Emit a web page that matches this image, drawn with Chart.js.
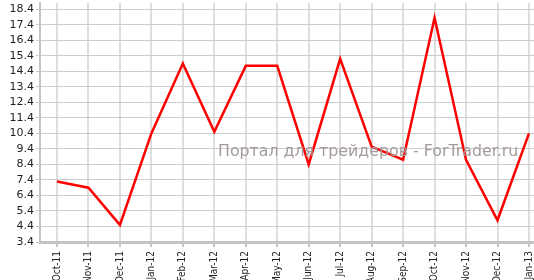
<!DOCTYPE html>
<html lang="ru">
<head>
  <meta charset="UTF-8">
  <title>Chart</title>
  <script src="https://cdn.jsdelivr.net/npm/chart.js"></script>
  <style>
    body {
      margin: 0;
      padding: 0;
      background: #fff;
    }

    #wrap {
      position: relative;
      width: 534px;
      height: 280px;
    }

    .watermark {
      position: absolute;
      left: 218px;
      top: 141px;
      font-family: 'DejaVu Sans', sans-serif;
      font-size: 15.8px;
      color: #a59b9b;
      white-space: nowrap;
      pointer-events: none;
    }
  </style>
</head>
<body>
  <div id="wrap">
    <canvas id="chart" width="534" height="280"></canvas>
    <div class="watermark">Портал для трейдеров - ForTrader.ru</div>
  </div>

  <script>
    const months = ['Oct-11', 'Nov-11', 'Dec-11', 'Jan-12', 'Feb-12', 'Mar-12', 'Apr-12', 'May-12',
                    'Jun-12', 'Jul-12', 'Aug-12', 'Sep-12', 'Oct-12', 'Nov-12', 'Dec-12', 'Jan-13'];
    const values = [7.3, 6.9, 4.5, 10.4, 14.9, 10.5, 14.75, 14.75,
                    8.4, 15.2, 9.55, 8.7, 17.85, 8.7, 4.8, 10.4];
    const yTicks = [3.4, 4.4, 5.4, 6.4, 7.4, 8.4, 9.4, 10.4, 11.4, 12.4, 13.4, 14.4, 15.4, 16.4, 17.4, 18.4];

    const ctx = document.getElementById('chart').getContext('2d');
    new Chart(ctx, {
      type: 'line',
      data: {
        datasets: [{
          data: values.map((v, i) => ({ x: i, y: v })),
          borderColor: '#ff0000',
          borderWidth: 2.5,
          pointRadius: 0,
          tension: 0,
          fill: false
        }]
      },
      options: {
        responsive: false,
        animation: false,
        layout: { padding: { top: 3, right: 0, left: 0, bottom: 0 } },
        plugins: {
          legend: { display: false },
          tooltip: { enabled: false }
        },
        scales: {
          x: {
            type: 'linear',
            min: -0.54,
            max: 15.16,
            afterBuildTicks: axis => {
              axis.ticks = months.map((m, i) => ({ value: i }));
            },
            afterFit: axis => {
              axis.height = 38;
              axis.paddingLeft = 0;
              axis.paddingRight = 0;
            },
            ticks: {
              autoSkip: false,
              maxRotation: 90,
              minRotation: 90,
              padding: 4,
              color: '#222',
              font: { family: 'DejaVu Sans Condensed', size: 10 },
              callback: v => months[v]
            },
            grid: {
              color: '#dedede',
              lineWidth: 2,
              tickLength: 5,
              tickColor: '#c4c4c4'
            },
            border: { color: '#c4c4c4', width: 3 }
          },
          y: {
            min: 3.4,
            max: 18.8,
            afterBuildTicks: axis => {
              axis.ticks = yTicks.map(v => ({ value: v }));
            },
            afterFit: axis => {
              axis.width = 40;
              axis.paddingTop = 0;
              axis.paddingBottom = 0;
            },
            ticks: {
              autoSkip: false,
              padding: 2,
              color: '#222',
              font: { family: 'DejaVu Sans', size: 11 },
              callback: v => v.toFixed(1)
            },
            grid: {
              color: '#cccccc',
              lineWidth: 1,
              tickLength: 4,
              tickColor: '#cccccc'
            },
            border: { color: '#c4c4c4', width: 2 }
          }
        }
      }
    });
  </script>
</body>
</html>
